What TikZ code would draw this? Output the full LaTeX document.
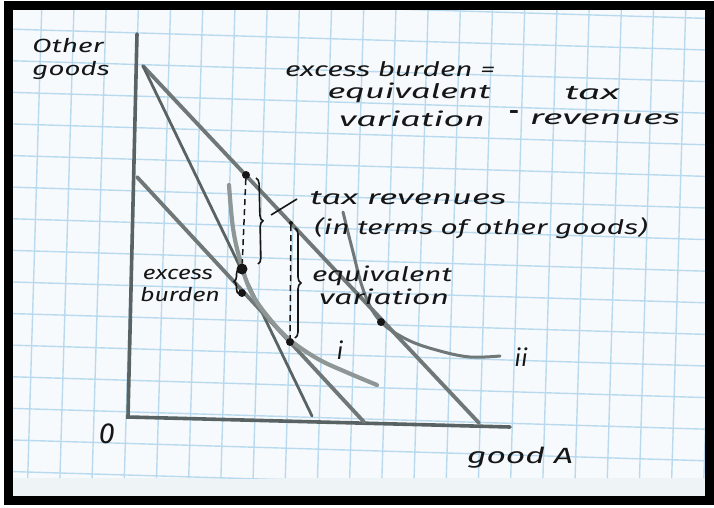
\documentclass[tikz,border=0pt]{standalone}
\usepackage{fontspec}
\setmainfont{Fira Sans}
\usetikzlibrary{decorations.pathreplacing,calc}
\definecolor{paper}{HTML}{F7FAFC}
\definecolor{paperlow}{HTML}{EEF3F6}
\definecolor{gridc}{HTML}{B9DAEE}
\definecolor{pencil}{HTML}{6F7777}
\definecolor{pencildark}{HTML}{5A6363}
\definecolor{pencillight}{HTML}{8E9696}
\definecolor{ink}{HTML}{161616}
% stretch text horizontally to a given width, keeping its natural height
\newcommand{\fitw}[3]{\resizebox{#1}{\height}{\fontsize{#2}{#2}\selectfont\itshape #3}}
\tikzset{
  gridline/.style={gridc, line width=1.4pt},
  axisline/.style={pencildark, line width=3.6pt, line cap=round},
  budget/.style={pencil, line width=3.8pt, line cap=round},
  steepline/.style={pencildark, line width=2.8pt, line cap=round},
  curvei/.style={pencillight, line width=4.2pt, line cap=round},
  curveii/.style={pencil, line width=3pt, line cap=round},
  dashline/.style={ink, line width=1.5pt, dash pattern=on 6pt off 4pt},
  dotnode/.style={circle, fill=ink, inner sep=0pt, minimum size=8pt},
  bigdot/.style={circle, fill=ink, inner sep=0pt, minimum size=11pt},
  label/.style={ink, inner sep=0pt, anchor=center},
  bracestyle/.style={ink, line width=1.6pt, decorate, decoration={brace, amplitude=6pt}},
  pointer/.style={ink, line width=1.6pt},
}
\begin{document}
\begin{tikzpicture}[x=1pt, y=-1pt]
\useasboundingbox (0,0) rectangle (714,508);
\fill[white] (0,0) rectangle (714,508);
% paper
\fill[paper] (12,10) rectangle (705,496);
\fill[paperlow] (12,478) rectangle (705,496);
\begin{scope}
  \clip (12,10) rectangle (705,478);
  \foreach \k in {0,...,21} {
    \draw[gridline] ({30+32.2*\k+11.7},10) -- ({30+32.2*\k-2.3},478);
  }
  \foreach \k in {-2,...,13} {
    \draw[gridline] (12,{408-31.6*\k+0.36}) -- (705,{408-31.6*\k+21.15});
  }
\end{scope}
% frame
\draw[black, line width=9pt] (8,5.5) rectangle (709,500.5);

% coordinates
\coordinate (ytop) at (137,34);
\coordinate (origin) at (128,417);
\coordinate (xend) at (510,427);
\coordinate (apex) at (143,66);
\coordinate (outerend) at (479,423);
\coordinate (steepend) at (312,416);
\coordinate (lowstart) at (137,177);
\coordinate (lowend) at (364,422);

% axes
\draw[axisline] (ytop) -- (origin) -- (xend);
% budget lines
\draw[budget] (apex) -- (outerend);
\draw[steepline] (apex) -- (steepend);
\draw[budget] (lowstart) -- (lowend);

% indifference curves
\draw[curvei] plot[smooth, tension=0.6] coordinates {(229,185) (233,228) (240,260) (251,292) (269,318) (290,340) (318,359) (346,372) (377,385)};
\draw[curveii] plot[smooth, tension=0.6] coordinates {(343,212) (352,248) (364,292) (380,321) (408,340) (440,351) (470,357) (500,356)};

% dots
\node[dotnode] (A) at (246,175) {};
\node[bigdot] (B) at (242,269) {};
\node[dotnode] (C) at (242,293) {};
\node[dotnode] (D) at (290,342) {};
\node[dotnode] (E) at (381,322) {};
\node[circle, fill=ink, inner sep=0pt, minimum size=4pt] (F) at (291,223) {};

% dashed verticals
\draw[dashline] (A) -- (B);
\draw[dashline] (F) -- (D);

% braces
\coordinate (b1t) at (256,178);
\coordinate (b1b) at (258,264);
\coordinate (b2t) at (295,228);
\coordinate (b2b) at (295,338);
\coordinate (b3t) at (239,269);
\coordinate (b3b) at (239,294);
\draw[bracestyle] (b1t) -- (b1b);
\draw[bracestyle] (b2t) -- (b2b);
\draw[bracestyle, decoration={brace, amplitude=5pt}] (b3b) -- (b3t);

% pointer from brace to text
\coordinate (p1) at (271,215);
\coordinate (p2) at (297,199);
\draw[pointer] (p1) -- (p2);

% labels
\node[label] (lother) at (68,46) {\fitw{71pt}{19}{Other}};
\node[label] (lgoods) at (71,70) {\fitw{77pt}{19}{goods}};
\node[label] (leb) at (390,69) {\fitw{210pt}{20}{excess burden =}};
\node[label] (leq) at (409,93) {\fitw{163pt}{20}{equivalent}};
\node[label] (ltax) at (592,93) {\fitw{55pt}{20}{tax}};
\node[label] (lvar) at (412,119) {\fitw{146pt}{20}{variation}};
\node[label] (lminus) at (514,115) {\fontsize{24}{24}\selectfont\bfseries -};
\node[label] (lrev) at (605,119) {\fitw{150pt}{20}{revenues}};
\node[label] (ltaxrev) at (408,198) {\fitw{196pt}{20}{tax revenues}};
\node[label] (linterms) at (481,228) {\fitw{333pt}{20}{(in terms of other goods)}};
\node[label] (lexcess) at (178,274) {\fitw{70pt}{19}{excess}};
\node[label] (lburden) at (180,294) {\fitw{80pt}{19}{burden}};
\node[label] (leq2) at (382,276) {\fitw{140pt}{20}{equivalent}};
\node[label] (lvar2) at (384,297) {\fitw{130pt}{20}{variation}};
\node[label] (li) at (340,350) {\fontsize{24}{24}\selectfont\itshape i};
\node[label] (lii) at (521,357) {\fontsize{24}{24}\selectfont\itshape ii};
\node[label] (lzero) at (107,434) {\fontsize{29}{29}\selectfont\itshape 0};
\node[label] (lgood) at (520,458) {\fitw{106pt}{22}{good A}};
\end{tikzpicture}
\end{document}
